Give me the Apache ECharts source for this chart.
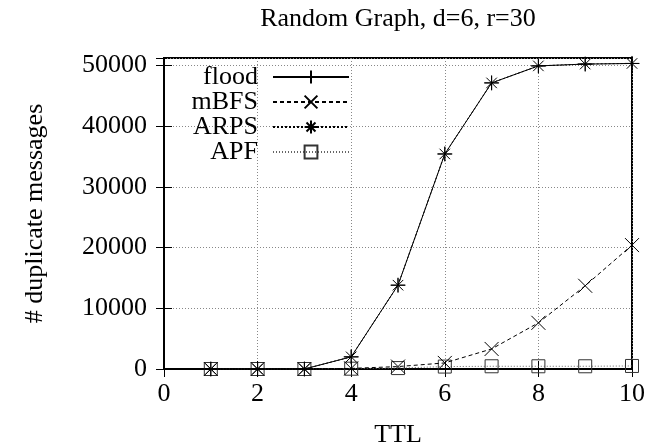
<!DOCTYPE html>
<html>
<head>
<meta charset="utf-8">
<script src="https://cdn.jsdelivr.net/npm/echarts@6/dist/echarts.min.js"></script>
<style>
    html, body { margin: 0; padding: 0; background: #fff; }
    #chart { width: 655px; height: 447px; }
</style>
</head>
<body>
<div id="chart"></div>
<script>
    // TTL values (x)
    var ttl = [1, 2, 3, 4, 5, 6, 7, 8, 9, 10];
    // duplicate messages per method
    var flood = [0, 0, 0, 2000, 13800, 35400, 47100, 49900, 50200, 50300];
    var mbfs = [0, 0, 0, 100, 400, 1000, 3300, 7600, 13700, 20400];
    var arps = [0, 0, 0, 2000, 13800, 35400, 47100, 49900, 50200, 50300];
    var apf = [0, 0, 0, 50, 150, 400, 450, 450, 450, 500];
    var xTicks = [0, 2, 4, 6, 8, 10];

    var FONT = 'Liberation Serif';

    function pairs(ys) {
        return ttl.map(function (x, i) { return [x, ys[i]]; });
    }

    var chart = echarts.init(document.getElementById('chart'));

    var markerStyle = {
        color: 'rgba(0,0,0,0)',
        borderColor: '#000',
        borderWidth: 1
    };

    var option = {
        animation: false,
        backgroundColor: '#fff',
        title: {
            text: 'Random Graph, d=6, r=30',
            left: 398,
            top: 6,
            padding: 0,
            textAlign: 'center',
            textStyle: { fontFamily: FONT, fontSize: 26, fontWeight: 'normal', color: '#000' }
        },
        legend: {
            orient: 'vertical',
            left: 166,
            top: 64,
            align: 'right',
            itemGap: -1,
            itemWidth: 76,
            itemHeight: 16,
            padding: 0,
            textStyle: {
                fontFamily: FONT, fontSize: 26, color: '#000', lineHeight: 20,
                width: 92, align: 'right', padding: [0, 10, 0, 0]
            },
            data: ['flood', 'mBFS', 'ARPS', 'APF']
        },
        grid: {
            left: 164,
            right: 23,
            top: 58,
            bottom: 78,
            outerBoundsMode: 'none',
            show: true,
            borderColor: '#000',
            borderWidth: 2
        },
        xAxis: [{
            type: 'value',
            min: 0,
            max: 10,
            interval: 2,
            name: 'TTL',
            nameLocation: 'middle',
            nameGap: 53,
            nameTextStyle: { fontFamily: FONT, fontSize: 26, color: '#000' },
            axisLine: { show: true, lineStyle: { color: '#000', width: 2 } },
            axisTick: { show: true, inside: true, length: 8, lineStyle: { color: '#000', width: 1 } },
            axisLabel: { fontFamily: FONT, fontSize: 26, color: '#000', margin: 12 },
            splitLine: { show: true, lineStyle: { color: '#888', type: [1, 2], width: 1 } }
        }, {
            type: 'value',
            position: 'top',
            min: 0,
            max: 10,
            interval: 2,
            axisLine: { show: false },
            axisTick: { show: true, inside: true, length: 8, lineStyle: { color: '#000', width: 1 } },
            axisLabel: { show: false },
            splitLine: { show: false }
        }],
        yAxis: [{
            type: 'value',
            min: 0,
            max: 51200,
            interval: 10000,
            name: '# duplicate messages',
            nameLocation: 'middle',
            nameGap: 116,
            nameTextStyle: { fontFamily: FONT, fontSize: 26, color: '#000' },
            axisLine: { show: true, lineStyle: { color: '#000', width: 2 } },
            axisTick: { show: true, inside: true, length: 8, lineStyle: { color: '#000', width: 1 } },
            axisLabel: {
                fontFamily: FONT, fontSize: 26, color: '#000', margin: 17, showMaxLabel: false,
                formatter: function (v) { return String(v); }
            },
            splitLine: { show: true, lineStyle: { color: '#888', type: [1, 2], width: 1 } }
        }, {
            type: 'value',
            position: 'right',
            min: 0,
            max: 51200,
            interval: 10000,
            axisLine: { show: false },
            axisTick: { show: true, inside: true, length: 8, lineStyle: { color: '#000', width: 1 } },
            axisLabel: { show: false },
            splitLine: { show: false }
        }],
        series: [
            {
                name: 'APF',
                type: 'line',
                data: pairs(apf),
                symbol: 'rect',
                symbolSize: 13,
                z: 2,
                lineStyle: { color: '#666', width: 1, type: [1, 2] },
                itemStyle: { color: 'rgba(0,0,0,0)', borderColor: '#333', borderWidth: 1 }
            },
            {
                name: 'ARPS',
                type: 'line',
                data: pairs(arps),
                symbol: 'path://M0,5L10,5M5,0L5,10M1.5,1.5L8.5,8.5M8.5,1.5L1.5,8.5',
                symbolSize: 15,
                z: 3,
                lineStyle: { color: '#000', width: 1, type: [2, 2] },
                itemStyle: markerStyle
            },
            {
                name: 'mBFS',
                type: 'line',
                data: pairs(mbfs),
                symbol: 'path://M0,0L10,10M10,0L0,10',
                symbolSize: 14,
                z: 4,
                lineStyle: { color: '#000', width: 1, type: [4, 3] },
                itemStyle: markerStyle
            },
            {
                name: 'flood',
                type: 'line',
                data: pairs(flood),
                symbol: 'path://M0,5L10,5M5,0L5,10',
                symbolSize: 14,
                z: 5,
                lineStyle: { color: '#000', width: 1, type: 'solid' },
                itemStyle: markerStyle
            }
        ]
    };

    chart.setOption(option);
</script>
</body>
</html>
